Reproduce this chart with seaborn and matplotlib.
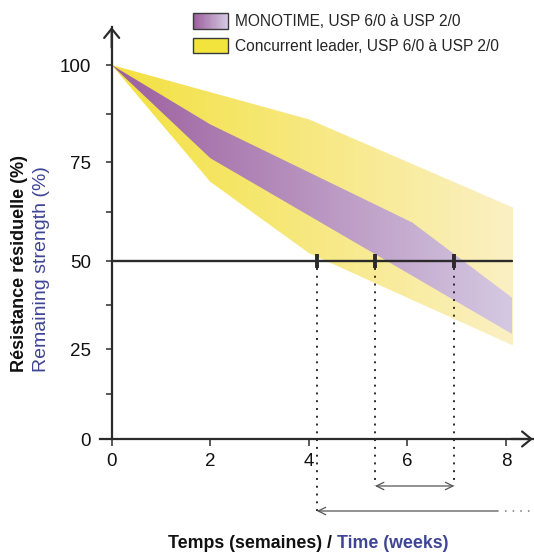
import numpy as np
import matplotlib
matplotlib.use("Agg")
import matplotlib.pyplot as plt
import seaborn as sns
from matplotlib.colors import LinearSegmentedColormap
from matplotlib.legend_handler import HandlerBase
from matplotlib.patches import Rectangle, Patch
from matplotlib.offsetbox import TextArea, HPacker, AnchoredOffsetbox

# ---------------- data ----------------
week_ticks = [0, 2, 4, 6, 8]
strength_ticks = [0, 25, 50, 75, 100]
strength_minor = [12.5, 37.5, 62.5, 87.5]

conc_x_up = [0, 2, 4, 8.14]
conc_upper = [100, 93, 86, 63.5]
conc_x_low = [0, 2, 4, 8.14]
conc_lower = [100, 70, 52, 26]

mono_x_up = [0, 2, 6.1, 8.12]
mono_upper = [100, 84.7, 59.7, 39.6]
mono_x_low = [0, 2, 8.12]
mono_lower = [100, 76, 29.3]

threshold = 50
threshold_x = [0, 8.13]
cross_weeks = [4.16, 5.34, 6.95]   # crossings of the 50 % line
arrow_tail_week = 7.84

label_mono = "MONOTIME, USP 6/0 à USP 2/0"
label_conc = "Concurrent leader, USP 6/0 à USP 2/0"
ylabel_fr = "Résistance résiduelle (%)"
ylabel_en = "Remaining strength (%)"
xlabel_fr = "Temps (semaines) / "
xlabel_en = "Time (weeks)"

# ---------------- style ----------------
sns.set_theme(style="ticks")
plt.rcParams["font.family"] = ["Liberation Sans", "DejaVu Sans"]
DARK = "#2b2b2b"
BLUE = "#3F4595"
purple_cmap = LinearSegmentedColormap.from_list("mono", ["#9C5F9E", "#D5C9E2"])
yellow_cmap = LinearSegmentedColormap.from_list("conc", ["#F3E13F", "#FBF0C4"])

# the printed y axis is not evenly spaced; reproduce it with a function scale
Y_VAL = [-100, 0, 25, 50, 75, 100, 200]
Y_POS = [-374, 0, 90, 178, 277, 374, 762]
def fwd(v):
    return np.interp(v, Y_VAL, Y_POS)
def inv(p):
    return np.interp(p, Y_POS, Y_VAL)

fig = plt.figure(figsize=(5.34, 5.53), dpi=100)
ax = fig.add_axes([100 / 534, 114 / 553, 433 / 534, 412 / 553])
ax.set_yscale("function", functions=(fwd, inv))
XMIN, XMAX = -0.237, 8.546
YMAX = 109.8
ax.set_xlim(XMIN, XMAX)
ax.set_ylim(0, YMAX)
ax.set_autoscale_on(False)

def frac_x(x):
    return (x - XMIN) / (XMAX - XMIN)

# ---------------- gradient bands ----------------
def gradient_band(xu, yu, xl, yl, cmap, zorder):
    xs = list(xu) + list(xl)[::-1]
    ys = list(yu) + list(yl)[::-1]
    poly = ax.fill(xs, ys, facecolor="none", edgecolor="none", zorder=zorder)[0]
    grad = np.linspace(0, 1, 256).reshape(1, -1)
    x0, x1 = 0, max(max(xu), max(xl))
    im = ax.imshow(grad, cmap=cmap, aspect="auto", interpolation="bilinear",
                   extent=[frac_x(x0), frac_x(x1), 0, 1],
                   transform=ax.transAxes, zorder=zorder)
    im.set_clip_path(poly)

gradient_band(conc_x_up, conc_upper, conc_x_low, conc_lower, yellow_cmap, 1)
gradient_band(mono_x_up, mono_upper, mono_x_low, mono_lower, purple_cmap, 2)
ax.set_xlim(XMIN, XMAX)
ax.set_ylim(0, YMAX)

# ---------------- 50 % threshold ----------------
sns.lineplot(x=threshold_x, y=[threshold] * len(threshold_x), ax=ax,
             color=DARK, lw=1.7, zorder=4, legend=False)
ax.plot(cross_weeks, [threshold] * len(cross_weeks), ls="none", marker="|",
        ms=10, mew=2.8, color=DARK, zorder=5)

xt = ax.get_xaxis_transform()
y50 = fwd(threshold) / fwd(YMAX)
y_near = (439 - 486) / 412
y_far = (439 - 511) / 412
ends = [y_far, y_near, y_near]
for xw, ye in zip(cross_weeks, ends):
    ax.plot([xw, xw], [y50 - 0.018, ye], transform=xt, ls=(0, (1, 3)), lw=1.4,
            color=DARK, clip_on=False, zorder=3)

ax.annotate("", xy=(cross_weeks[2], y_near), xytext=(cross_weeks[1], y_near),
            xycoords=xt, textcoords=xt, annotation_clip=False,
            arrowprops=dict(arrowstyle="<->,head_length=0.45,head_width=0.22",
                            lw=0.9, color="#555555", shrinkA=0, shrinkB=0))
ax.annotate("", xy=(cross_weeks[0], y_far), xytext=(arrow_tail_week, y_far),
            xycoords=xt, textcoords=xt, annotation_clip=False,
            arrowprops=dict(arrowstyle="->,head_length=0.45,head_width=0.22",
                            lw=0.9, color="#555555", shrinkA=0, shrinkB=0))
ax.plot([arrow_tail_week + 0.14, XMAX + 0.05], [y_far, y_far], transform=xt,
        ls=(0, (1, 4)), lw=1.1, color="#777777", clip_on=False)

# ---------------- axes ----------------
for s in ("top", "right"):
    ax.spines[s].set_visible(False)
ax.spines["left"].set_position(("data", 0))
for s in ("left", "bottom"):
    ax.spines[s].set_color(DARK)
    ax.spines[s].set_linewidth(1.6)
    ax.spines[s].set_zorder(6)

ax.set_xticks(week_ticks)
ax.set_xticklabels([str(v) for v in week_ticks])
ax.set_yticks(strength_ticks)
ax.set_yticklabels([str(v) for v in strength_ticks])
ax.set_yticks(strength_minor, minor=True)
ax.tick_params(axis="y", which="both", direction="out", length=4.3, width=1.1,
               color=DARK, pad=10.5, labelsize=13.5, labelcolor="#111111")
ax.tick_params(axis="x", which="major", direction="out", length=5, width=1.1,
               color=DARK, pad=5, labelsize=13.5, labelcolor="#111111")
ax.set_xlabel("")
ax.set_ylabel("")
ax.grid(False)

arrow_kw = dict(arrowstyle="->,head_length=0.55,head_width=0.45", lw=1.6,
                color=DARK, shrinkA=0, shrinkB=0)
ax.annotate("", xy=(1.0, 0), xytext=(0.95, 0), xycoords="axes fraction",
            annotation_clip=False, arrowprops=arrow_kw)
ax.annotate("", xy=(0, 1.0), xytext=(0, 0.95),
            xycoords=("data", "axes fraction"), annotation_clip=False,
            arrowprops=arrow_kw)

# ---------------- labels ----------------
fig.text(20 / 534, 1 - 372 / 553, ylabel_fr, rotation=90, ha="center",
         va="bottom", fontsize=13, fontweight="bold", color="#111111")
fig.text(42 / 534, 1 - 372 / 553, ylabel_en, rotation=90, ha="center",
         va="bottom", fontsize=14, color=BLUE)

t1 = TextArea(xlabel_fr, textprops=dict(fontsize=12.8, fontweight="bold",
                                        color="#111111"))
t2 = TextArea(xlabel_en, textprops=dict(fontsize=12.8, fontweight="bold",
                                        color=BLUE))
box = HPacker(children=[t1, t2], align="baseline", pad=0, sep=0)
anch = AnchoredOffsetbox(loc="center", child=box, pad=0, borderpad=0,
                         frameon=False, bbox_to_anchor=(308 / 534, 1 - 544 / 553),
                         bbox_transform=fig.transFigure)
fig.add_artist(anch)

# ---------------- legend ----------------
class GradientHandler(HandlerBase):
    def __init__(self, cmap, n=40):
        super().__init__()
        self.cmap = cmap
        self.n = n

    def create_artists(self, legend, orig_handle, xdescent, ydescent, width,
                       height, fontsize, trans):
        arts = []
        w = width / self.n
        for i in range(self.n):
            arts.append(Rectangle((-xdescent + i * w, -ydescent), w * 1.08, height,
                                  facecolor=self.cmap(i / (self.n - 1)),
                                  edgecolor="none", transform=trans))
        arts.append(Rectangle((-xdescent, -ydescent), width, height,
                              facecolor="none", edgecolor="#3a3a3a", lw=1.0,
                              transform=trans))
        return arts

mono_h = Patch(facecolor="#B48FBB", edgecolor="#3a3a3a")
conc_h = Patch(facecolor="#F2E43C", edgecolor="#3a3a3a", lw=1.0)
fig.legend(handles=[mono_h, conc_h], labels=[label_mono, label_conc],
           loc="upper left", bbox_to_anchor=(193 / 534, 1 - 13 / 553),
           frameon=False, fontsize=11.2, handlelength=2.25, handleheight=1.16,
           handletextpad=0.45, labelspacing=0.55, borderpad=0, borderaxespad=0,
           handler_map={mono_h: GradientHandler(purple_cmap)})

fig.savefig("out.png", dpi=100)
